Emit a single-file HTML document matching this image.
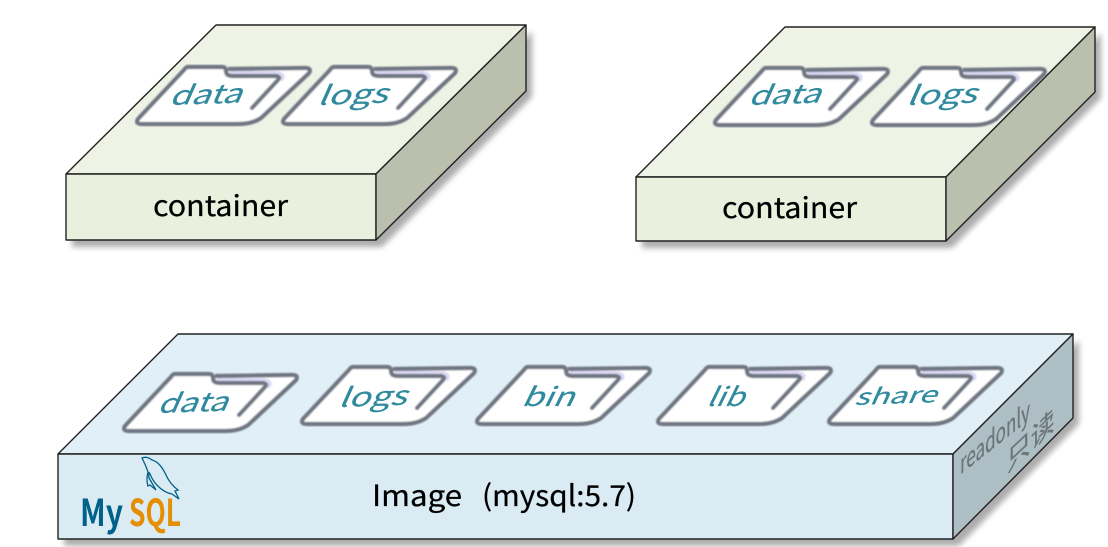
<!DOCTYPE html>
<html>
<head>
<meta charset="utf-8">
<style>
html,body{margin:0;padding:0;background:#fff;width:1108px;height:547px;overflow:hidden}
svg{display:block}
.c{font-family:"Noto Sans CJK SC","Liberation Sans",sans-serif;font-size:29px;fill:#000;stroke:#000;stroke-width:.25}
.f{font-family:"Noto Sans CJK SC","Liberation Sans",sans-serif;font-size:26px;fill:#2f8a9e;stroke:#2f8a9e;stroke-width:.2}
</style>
</head>
<body>
<svg width="1108" height="547" viewBox="0 0 1108 547" xmlns="http://www.w3.org/2000/svg">
<defs>
<filter id="s" x="-5%" y="-5%" width="110%" height="115%"><feGaussianBlur stdDeviation="3"/></filter>
<filter id="b" x="-5%" y="-5%" width="110%" height="110%"><feGaussianBlur stdDeviation="0.9"/></filter>
<g id="fold" filter="url(#b)">
<path d="M58,17 L92,17 Q96,17 97,19 L175,18 Q182,18 179,23 L131,68 Q122,74 108,74 L12,74 Q5,74 8,69 L54,20 Q56,17 58,17 Z" fill="#fff"/>
<path d="M100,23 L146,23 Q156,24 151,30" fill="none" stroke="#dcd9f6" stroke-width="4"/>
<path d="M58,17 L92,17 Q96,17 96,21 Q96,26 103,26 L146,26 Q151,27 148,30 L122,58" fill="none" stroke="#6f7682" stroke-width="4.2" stroke-linecap="round"/>
<path d="M98,19 L175,18 Q182,18 179,23 L131,68 Q122,74 108,74 L12,74 Q5,74 8,69 L54,20 Q56,17 58,17" fill="none" stroke="#6f7682" stroke-width="4.2"/>
</g>
</defs>

<!-- shadows -->
<path d="M72,180 L382,180 L532,31 L532,97 L382,247 L72,247 Z" fill="#000" opacity=".32" filter="url(#s)"/>
<path d="M642,183 L952,183 L1101,33 L1101,98 L952,248 L642,248 Z" fill="#000" opacity=".32" filter="url(#s)"/>
<path d="M64,460 L959,460 L1079,340 L1079,424 L959,546 L64,546 Z" fill="#000" opacity=".32" filter="url(#s)"/>

<!-- container 1 -->
<g stroke="#222" stroke-width="1.4" stroke-linejoin="round">
<path d="M66,174 L216,25 L526,25 L376,174 Z" fill="#eef3e5"/>
<path d="M66,174 L376,174 L376,240 L66,240 Z" fill="#e9f0de"/>
<path d="M376,174 L526,25 L526,91 L376,240 Z" fill="#babfae"/>
</g>
<use href="#fold" x="130" y="50"/>
<use href="#fold" x="276" y="50"/>
<text class="f" textLength="72" lengthAdjust="spacingAndGlyphs" transform="translate(169,105) rotate(-2) skewX(-26)">data</text>
<text class="f" textLength="70" lengthAdjust="spacingAndGlyphs" transform="translate(317,105) rotate(-2) skewX(-26)">logs</text>
<text class="c" x="153" y="216" textLength="135" lengthAdjust="spacingAndGlyphs">container</text>

<!-- container 2 -->
<g stroke="#222" stroke-width="1.4" stroke-linejoin="round">
<path d="M636,177 L785,27 L1095,27 L946,177 Z" fill="#eef3e5"/>
<path d="M636,177 L946,177 L946,241 L636,241 Z" fill="#e9f0de"/>
<path d="M946,177 L1095,27 L1095,92 L946,241 Z" fill="#babfae"/>
</g>
<use href="#fold" x="708" y="51"/>
<use href="#fold" x="865" y="51"/>
<text class="f" textLength="72" lengthAdjust="spacingAndGlyphs" transform="translate(748,105) rotate(-2) skewX(-26)">data</text>
<text class="f" textLength="70" lengthAdjust="spacingAndGlyphs" transform="translate(906,105) rotate(-2) skewX(-26)">logs</text>
<text class="c" x="722" y="218" textLength="135" lengthAdjust="spacingAndGlyphs">container</text>

<!-- image -->
<g stroke="#222" stroke-width="1.4" stroke-linejoin="round">
<path d="M58,454 L178,334 L1073,334 L953,454 Z" fill="#e0f0f6"/>
<path d="M58,454 L953,454 L953,539 L58,539 Z" fill="#daebf3"/>
<path d="M953,454 L1073,334 L1073,418 L953,539 Z" fill="#adbfc4"/>
</g>
<use href="#fold" x="117" y="357"/>
<use href="#fold" x="295" y="350"/>
<use href="#fold" x="470" y="350"/>
<use href="#fold" x="651" y="350"/>
<use href="#fold" x="822" y="350"/>
<text class="f" textLength="70" lengthAdjust="spacingAndGlyphs" transform="translate(157,413) rotate(-2) skewX(-26)">data</text>
<text class="f" textLength="68" lengthAdjust="spacingAndGlyphs" transform="translate(338,407) rotate(-2) skewX(-26)">logs</text>
<text class="f" textLength="52" lengthAdjust="spacingAndGlyphs" transform="translate(521,406) skewX(-26)">bin</text>
<text class="f" textLength="37" lengthAdjust="spacingAndGlyphs" transform="translate(706,406) skewX(-26)">lib</text>
<text class="f" textLength="82" lengthAdjust="spacingAndGlyphs" transform="translate(854,405) rotate(-2) skewX(-26)" style="font-size:22px">share</text>
<text class="c" x="372" y="506" textLength="90" lengthAdjust="spacingAndGlyphs" style="font-size:29px">Image</text>
<text class="c" x="482" y="506" textLength="154" lengthAdjust="spacingAndGlyphs" style="font-size:29px">(mysql:5.7)</text>

<!-- mysql logo -->
<path d="M142,458 Q147,456 152,460 Q160,462 166,475 Q170,484 178,490 L175,491 L179,499 L172,494 Q166,493 160,488 Q153,482 150,474 Q148,470 149,478 L156,490 L150,485 L148,486 Q146,480 148,472 Q146,466 142,458 Z" fill="none" stroke="#00618a" stroke-width="1.3"/>
<text x="80" y="526" textLength="43" lengthAdjust="spacingAndGlyphs" style="font-family:'Noto Sans CJK SC','Liberation Sans',sans-serif;font-weight:700;font-size:37px;fill:#00618a">My</text>
<text x="129" y="526" textLength="52" lengthAdjust="spacingAndGlyphs" style="font-family:'Noto Sans CJK SC','Liberation Sans',sans-serif;font-weight:700;font-size:37px;fill:#e48e00">SQL</text>

<!-- readonly -->
<text textLength="70" lengthAdjust="spacingAndGlyphs" transform="matrix(1,-0.8,0,1,960,475)" style="font-family:'Noto Sans CJK SC','Liberation Sans',sans-serif;font-size:27px;fill:#6c767a;stroke:#6c767a;stroke-width:.3">readonly</text>
<text transform="matrix(0.85,-0.8,0,1,1007,473)" style="font-family:'Noto Sans CJK SC','Liberation Sans',sans-serif;font-size:28px;fill:#6c767a;stroke:#6c767a;stroke-width:.3">只读</text>
</svg>
</body>
</html>
